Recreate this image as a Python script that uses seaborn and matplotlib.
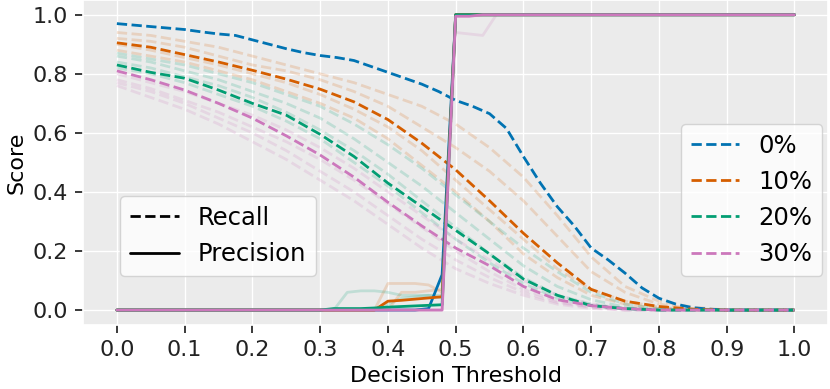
import pandas as pd
import numpy as np
import seaborn as sns
import matplotlib.pyplot as plt
from matplotlib.lines import Line2D

noise_levels = ['0%', '10%', '20%', '30%']
colors = ['#0173B2', '#D55E00', '#029E73', '#CC78BC']

# recall is read every 0.05 (0% curve every 0.025, it bends more)
recall_x = [0.00, 0.05, 0.10, 0.15, 0.20, 0.25, 0.30, 0.35, 0.40, 0.45, 0.50,
            0.55, 0.60, 0.65, 0.70, 0.75, 0.80, 0.85, 0.90, 0.95, 1.00]
recall_x_fine = [0.000, 0.025, 0.050, 0.075, 0.100, 0.125, 0.150, 0.175, 0.200, 0.225,
                 0.250, 0.275, 0.300, 0.325, 0.350, 0.375, 0.400, 0.425, 0.450, 0.475,
                 0.500, 0.525, 0.550, 0.575, 0.600, 0.625, 0.650, 0.675, 0.700, 0.725,
                 0.750, 0.775, 0.800, 0.825, 0.850, 0.875, 0.900, 1.000]

recall_0 = [0.97, 0.965, 0.96, 0.955, 0.95, 0.942, 0.935, 0.93, 0.915, 0.90,
            0.885, 0.872, 0.862, 0.855, 0.845, 0.825, 0.805, 0.785, 0.765, 0.74,
            0.71, 0.69, 0.665, 0.615, 0.52, 0.43, 0.35, 0.285, 0.21, 0.17,
            0.125, 0.075, 0.04, 0.02, 0.008, 0.003, 0.0, 0.0]
recall_10 = [0.905, 0.89, 0.865, 0.84, 0.812, 0.782, 0.748, 0.705, 0.645, 0.565, 0.475,
             0.37, 0.26, 0.16, 0.07, 0.03, 0.012, 0.003, 0.0, 0.0, 0.0]
recall_20 = [0.83, 0.805, 0.785, 0.745, 0.70, 0.66, 0.595, 0.52, 0.43, 0.35, 0.27,
             0.19, 0.105, 0.05, 0.015, 0.005, 0.0, 0.0, 0.0, 0.0, 0.0]
recall_30 = [0.81, 0.78, 0.745, 0.70, 0.65, 0.59, 0.525, 0.45, 0.365, 0.285, 0.21,
             0.15, 0.08, 0.035, 0.015, 0.005, 0.0, 0.0, 0.0, 0.0, 0.0]

# single runs (faint)
runs_10 = [
    [0.94, 0.93, 0.91, 0.89, 0.86, 0.83, 0.80, 0.77, 0.73, 0.69, 0.63, 0.55, 0.45, 0.32, 0.18, 0.08, 0.03, 0.01, 0, 0, 0],
    [0.92, 0.91, 0.89, 0.86, 0.83, 0.81, 0.78, 0.74, 0.69, 0.62, 0.55, 0.47, 0.37, 0.25, 0.13, 0.06, 0.02, 0.005, 0, 0, 0],
    [0.90, 0.88, 0.855, 0.83, 0.80, 0.77, 0.73, 0.68, 0.62, 0.54, 0.44, 0.34, 0.24, 0.14, 0.07, 0.03, 0.01, 0, 0, 0, 0],
    [0.88, 0.86, 0.84, 0.81, 0.78, 0.74, 0.70, 0.65, 0.58, 0.49, 0.40, 0.30, 0.19, 0.11, 0.05, 0.02, 0.005, 0, 0, 0, 0],
]
runs_20 = [
    [0.87, 0.85, 0.83, 0.80, 0.77, 0.73, 0.69, 0.63, 0.56, 0.48, 0.39, 0.30, 0.21, 0.13, 0.06, 0.02, 0.005, 0, 0, 0, 0],
    [0.86, 0.84, 0.81, 0.78, 0.74, 0.70, 0.65, 0.58, 0.50, 0.42, 0.33, 0.24, 0.15, 0.08, 0.035, 0.01, 0, 0, 0, 0, 0],
    [0.84, 0.82, 0.79, 0.76, 0.72, 0.67, 0.61, 0.54, 0.46, 0.37, 0.28, 0.19, 0.11, 0.05, 0.02, 0.005, 0, 0, 0, 0, 0],
    [0.82, 0.80, 0.77, 0.73, 0.69, 0.64, 0.58, 0.50, 0.42, 0.33, 0.24, 0.16, 0.09, 0.04, 0.015, 0.005, 0, 0, 0, 0, 0],
]
runs_30 = [
    [0.80, 0.77, 0.74, 0.70, 0.66, 0.61, 0.55, 0.48, 0.40, 0.32, 0.24, 0.17, 0.10, 0.05, 0.02, 0.005, 0, 0, 0, 0, 0],
    [0.78, 0.75, 0.71, 0.67, 0.62, 0.57, 0.51, 0.44, 0.36, 0.28, 0.20, 0.13, 0.07, 0.03, 0.01, 0, 0, 0, 0, 0, 0],
    [0.77, 0.74, 0.70, 0.65, 0.60, 0.54, 0.47, 0.40, 0.32, 0.24, 0.17, 0.11, 0.06, 0.025, 0.01, 0, 0, 0, 0, 0, 0],
    [0.76, 0.72, 0.68, 0.63, 0.57, 0.51, 0.44, 0.37, 0.29, 0.21, 0.14, 0.09, 0.05, 0.02, 0.005, 0, 0, 0, 0, 0, 0],
]

# precision only changes around the 0.5 jump
prec_x = [0.00, 0.30, 0.32, 0.34, 0.36, 0.38, 0.40, 0.42, 0.44, 0.46, 0.48,
          0.50, 0.52, 0.54, 0.56, 1.00]
precision_0 = [0, 0, 0, 0, 0, 0, 0, 0, 0, 0.005, 0.12, 1, 1, 1, 1, 1]
precision_10 = [0, 0, 0, 0, 0, 0, 0.03, 0.033, 0.037, 0.041, 0.045, 1, 1, 1, 1, 1]
precision_20 = [0, 0, 0.005, 0.005, 0.005, 0.007, 0.01, 0.012, 0.014, 0.016, 0.018, 1, 1, 1, 1, 1]
precision_30 = [0, 0, 0, 0, 0, 0, 0, 0, 0, 0, 0, 0.995, 0.995, 1, 1, 1]

prec_runs = {
    '10%': [[0, 0, 0, 0, 0, 0, 0.09, 0.09, 0.09, 0.085, 0.06, 1, 1, 1, 1, 1],
            [0, 0, 0, 0, 0, 0, 0, 0.06, 0.06, 0.065, 0.07, 1, 1, 1, 1, 1]],
    '20%': [[0, 0, 0, 0.06, 0.065, 0.065, 0.06, 0.05, 0.05, 0.05, 0.04, 1, 1, 1, 1, 1],
            [0, 0, 0, 0, 0, 0, 0.02, 0.04, 0.045, 0.05, 0.05, 1, 1, 1, 1, 1]],
    '30%': [[0, 0, 0, 0, 0, 0, 0, 0, 0, 0, 0, 0.94, 0.935, 0.93, 1, 1]],
}


def long_df(x, series):
    rows = []
    for noise, runs in series.items():
        for i, y in enumerate(runs):
            rows += [(xv, yv, noise, i) for xv, yv in zip(x, y)]
    return pd.DataFrame(rows, columns=['threshold', 'score', 'noise', 'run'])


recall_mean = pd.concat([
    long_df(recall_x_fine, {'0%': [recall_0]}),
    long_df(recall_x, {'10%': [recall_10], '20%': [recall_20], '30%': [recall_30]}),
])
recall_runs = long_df(recall_x, {'10%': runs_10, '20%': runs_20, '30%': runs_30})
prec_mean = long_df(prec_x, {'0%': [precision_0], '10%': [precision_10],
                             '20%': [precision_20], '30%': [precision_30]})
prec_runs_df = long_df(prec_x, prec_runs)

if __name__ == '__main__':
    sns.set_theme(style="darkgrid", rc={'axes.facecolor': '#EBEBEB',
                                        'xtick.bottom': True, 'ytick.left': True,
                                        'xtick.major.size': 6, 'ytick.major.size': 6,
                                        'xtick.major.pad': 5, 'ytick.major.pad': 5,
                                        'xtick.color': '#222222', 'ytick.color': '#222222',
                                        'text.color': 'black', 'axes.labelcolor': 'black'})
    plt.rcParams['font.size'] = 16
    palette = dict(zip(noise_levels, colors))

    fig, ax = plt.subplots(figsize=(8.3, 3.89), dpi=100)
    common = dict(x='threshold', y='score', hue='noise', palette=palette,
                  units='run', estimator=None, legend=False, ax=ax)
    sns.lineplot(data=recall_runs, linestyle='--', alpha=0.18, lw=2, **common)
    sns.lineplot(data=prec_runs_df, linestyle='-', alpha=0.18, lw=2, **common)
    sns.lineplot(data=recall_mean, linestyle='--', lw=2, **common)
    sns.lineplot(data=prec_mean, linestyle='-', lw=2, **common)

    ax.set_xticks(np.arange(0, 1.01, 0.1))
    ax.set_yticks(np.arange(0, 1.01, 0.2))
    ax.tick_params(labelsize=16)
    ax.set_xlabel("Decision Threshold", fontsize=16)
    ax.set_ylabel("Score", fontsize=16)

    frame = dict(facecolor='white', edgecolor='#CCCCCC', framealpha=0.8, fontsize=17.5)
    hue_handles = [Line2D([], [], color=c, ls='--', lw=2) for c in colors]
    leg1 = ax.legend(hue_handles, noise_levels, loc='lower right',
                     bbox_to_anchor=(0.992, 0.151), borderaxespad=0, **frame)
    ax.add_artist(leg1)
    style_handles = [Line2D([], [], color='black', ls='--', lw=2),
                     Line2D([], [], color='black', ls='-', lw=2)]
    ax.legend(style_handles, ['Recall', 'Precision'], loc='lower left',
              bbox_to_anchor=(0.05, 0.151), borderaxespad=0, **frame)

    plt.subplots_adjust(left=0.1, right=0.998, top=1.0, bottom=0.165)
    plt.savefig("out.png")
